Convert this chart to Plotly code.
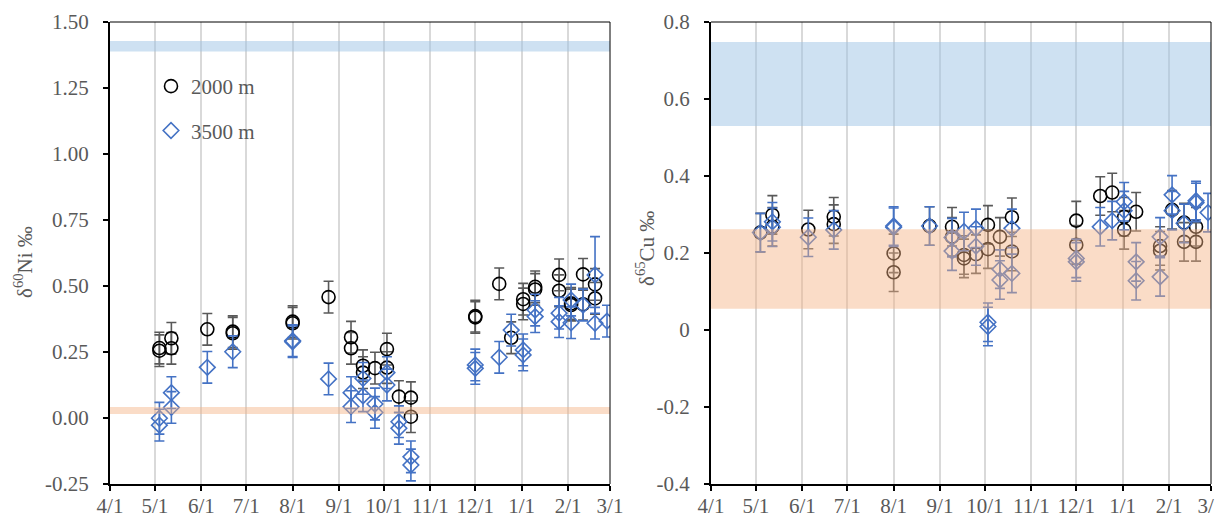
import plotly.graph_objects as go

FONT = "Liberation Serif"
GRAY = "#595959"
BLUE = "#4472C4"

# ---------------- axis ticks ----------------
month_ticks = ["2018-04-01", "2018-05-01", "2018-06-01", "2018-07-01", "2018-08-01", "2018-09-01",
               "2018-10-01", "2018-11-01", "2018-12-01", "2019-01-01", "2019-02-01", "2019-03-01"]
month_labels = ["4/1", "5/1", "6/1", "7/1", "8/1", "9/1", "10/1", "11/1", "12/1", "1/1", "2/1", "3/1"]

ni_y_ticks = [-0.25, 0.0, 0.25, 0.5, 0.75, 1.0, 1.25, 1.5]
ni_y_labels = ["-0.25", "0.00", "0.25", "0.50", "0.75", "1.00", "1.25", "1.50"]
cu_y_ticks = [-0.4, -0.2, 0.0, 0.2, 0.4, 0.6, 0.8]
cu_y_labels = ["-0.4", "-0.2", "0", "0.2", "0.4", "0.6", "0.8"]

# ---------------- reference bands ----------------
ni_band_blue = [1.388, 1.428]
ni_band_orange = [0.015, 0.042]
cu_band_blue = [0.530, 0.748]
cu_band_orange = [0.055, 0.262]

# ---------------- Ni, 2000 m ----------------
ni_2000_date = ["2018-05-04", "2018-05-04", "2018-05-12", "2018-05-12", "2018-06-05", "2018-06-22", "2018-06-22",
                "2018-08-01", "2018-08-01", "2018-08-25", "2018-09-09", "2018-09-09", "2018-09-17", "2018-09-17",
                "2018-09-25", "2018-10-03", "2018-10-03", "2018-10-11", "2018-10-19", "2018-10-19",
                "2018-12-01", "2018-12-01", "2018-12-17", "2018-12-25", "2019-01-02", "2019-01-02",
                "2019-01-10", "2019-01-10", "2019-01-26", "2019-01-26", "2019-02-03", "2019-02-03",
                "2019-02-11", "2019-02-11", "2019-02-19", "2019-02-19"]
ni_2000_val = [0.265, 0.255, 0.302, 0.264, 0.336, 0.327, 0.321,
               0.365, 0.359, 0.458, 0.306, 0.264, 0.198, 0.172,
               0.189, 0.261, 0.191, 0.081, 0.077, 0.005,
               0.386, 0.381, 0.508, 0.304, 0.450, 0.432,
               0.497, 0.487, 0.542, 0.482, 0.434, 0.428,
               0.544, 0.431, 0.506, 0.453]
ni_2000_err = [0.06] * 36

# ---------------- Ni, 3500 m ----------------
ni_3500_date = ["2018-05-04", "2018-05-04", "2018-05-12", "2018-05-12", "2018-06-05", "2018-06-22",
                "2018-08-01", "2018-08-01", "2018-08-25", "2018-09-09", "2018-09-09", "2018-09-17", "2018-09-17",
                "2018-09-25", "2018-09-25", "2018-10-03", "2018-10-03", "2018-10-11", "2018-10-11",
                "2018-10-19", "2018-10-19", "2018-12-01", "2018-12-01", "2018-12-17", "2018-12-25",
                "2019-01-02", "2019-01-02", "2019-01-10", "2019-01-10", "2019-01-26", "2019-01-26",
                "2019-02-03", "2019-02-03", "2019-02-11", "2019-02-19", "2019-02-19", "2019-02-27"]
ni_3500_val = [-0.001, -0.027, 0.096, 0.040, 0.192, 0.251,
               0.293, 0.289, 0.148, 0.096, 0.043, 0.150, 0.084,
               0.053, 0.021, 0.172, 0.125, -0.014, -0.039,
               -0.147, -0.178, 0.201, 0.188, 0.230, 0.333,
               0.258, 0.239, 0.409, 0.384, 0.397, 0.365,
               0.447, 0.361, 0.428, 0.542, 0.359, 0.367]
ni_3500_err = [0.06] * 34 + [0.145, 0.06, 0.06]

# ---------------- Cu, 2000 m ----------------
cu_2000_date = ["2018-05-04", "2018-05-12", "2018-05-12", "2018-06-05", "2018-06-22", "2018-06-22",
                "2018-08-01", "2018-08-01", "2018-08-25", "2018-09-09", "2018-09-09", "2018-09-17", "2018-09-17",
                "2018-09-25", "2018-10-03", "2018-10-03", "2018-10-11", "2018-10-19", "2018-10-19",
                "2018-12-01", "2018-12-01", "2018-12-17", "2018-12-25", "2019-01-02", "2019-01-02",
                "2019-01-10", "2019-01-26", "2019-01-26", "2019-02-03", "2019-02-11", "2019-02-11",
                "2019-02-19", "2019-02-19"]
cu_2000_val = [0.253, 0.299, 0.268, 0.261, 0.294, 0.275,
               0.199, 0.150, 0.270, 0.268, 0.242, 0.195, 0.186,
               0.197, 0.273, 0.210, 0.242, 0.293, 0.204,
               0.284, 0.221, 0.348, 0.357, 0.294, 0.260,
               0.307, 0.218, 0.206, 0.312, 0.279, 0.229,
               0.268, 0.229]
cu_2000_err = [0.05] * 33

# ---------------- Cu, 3500 m ----------------
cu_3500_date = ["2018-05-04", "2018-05-12", "2018-05-12", "2018-06-05", "2018-06-22",
                "2018-08-01", "2018-08-01", "2018-08-25", "2018-09-09", "2018-09-09", "2018-09-17",
                "2018-09-25", "2018-09-25", "2018-10-03", "2018-10-03", "2018-10-11", "2018-10-11",
                "2018-10-19", "2018-10-19", "2018-12-01", "2018-12-01", "2018-12-17", "2018-12-25",
                "2019-01-02", "2019-01-02", "2019-01-10", "2019-01-10", "2019-01-26", "2019-01-26",
                "2019-02-03", "2019-02-03", "2019-02-11", "2019-02-19", "2019-02-19", "2019-02-27"]
cu_3500_val = [0.253, 0.281, 0.267, 0.241, 0.260,
               0.270, 0.267, 0.270, 0.240, 0.205, 0.256,
               0.264, 0.218, 0.020, 0.009, 0.158, 0.130,
               0.264, 0.147, 0.186, 0.177, 0.268, 0.284,
               0.333, 0.310, 0.177, 0.128, 0.242, 0.138,
               0.351, 0.310, 0.277, 0.336, 0.331, 0.305]
cu_3500_err = [0.05] * 35

# page body has an 8 px margin; figure is sized to fit inside the window
OFF = 8
W, H = 1223 - OFF, 517 - OFF


def px(x):
    return (x - OFF) / W


def py(y):
    return 1 - (y - OFF) / H


L_DOM = [px(110), px(610)]
R_DOM = [px(711), px(1211)]
Y_DOM = [py(484), py(22)]

fig = go.Figure()


def add_series(dates, vals, errs, name, symbol, color, ecolor, size, xa, ya, legend, group):
    fig.add_trace(go.Scatter(
        x=dates, y=vals, mode="markers", name=name,
        marker=dict(symbol=symbol, size=size, color=color, line=dict(width=1.6, color=color)),
        error_y=dict(type="data", array=errs, color=ecolor, thickness=1.6, width=5),
        xaxis=xa, yaxis=ya, showlegend=legend, legendgroup=group,
    ))


add_series(ni_2000_date, ni_2000_val, ni_2000_err, "2000 m", "circle-open", "black", GRAY, 13, "x", "y", True, "a")
add_series(ni_3500_date, ni_3500_val, ni_3500_err, "3500 m", "diamond-open", BLUE, BLUE, 12, "x", "y", True, "b")
add_series(cu_2000_date, cu_2000_val, cu_2000_err, "2000 m", "circle-open", "black", GRAY, 13, "x2", "y2", False, "a")
add_series(cu_3500_date, cu_3500_val, cu_3500_err, "3500 m", "diamond-open", BLUE, BLUE, 12, "x2", "y2", False, "b")

FS = 21
tickfont = dict(family=FONT, size=FS, color=GRAY)

xcommon = dict(type="date", range=[month_ticks[0], month_ticks[-1]], tickmode="array",
               tickvals=month_ticks, ticktext=month_labels, ticks="outside", ticklen=5,
               tickcolor="black", tickwidth=1.5, showgrid=True, gridcolor="#D9D9D9", gridwidth=1.5,
               showline=True, linecolor="black", linewidth=2, zeroline=False, tickfont=tickfont,
               automargin=False, fixedrange=True, ticklabelstandoff=-3, ticklabeloverflow="allow")
ycommon = dict(tickmode="array", ticks="outside", ticklen=5, tickcolor="black", tickwidth=1.5,
               showgrid=False, showline=True, linecolor="black", linewidth=2, zeroline=False,
               tickfont=tickfont, automargin=False, fixedrange=True, ticklabelstandoff=10)

shapes = []
for xr, yr, blue, orange in [("x", "y", ni_band_blue, ni_band_orange), ("x2", "y2", cu_band_blue, cu_band_orange)]:
    shapes.append(dict(type="rect", xref=xr + " domain", yref=yr, x0=0, x1=1, y0=blue[0], y1=blue[1],
                       fillcolor="rgba(157,195,230,0.5)", line=dict(width=0), layer="above"))
    shapes.append(dict(type="rect", xref=xr + " domain", yref=yr, x0=0, x1=1, y0=orange[0], y1=orange[1],
                       fillcolor="rgba(244,177,131,0.45)", line=dict(width=0), layer="above"))
    shapes.append(dict(type="line", xref=xr + " domain", yref=yr + " domain", x0=0, x1=1, y0=1, y1=1,
                       line=dict(color="black", width=1), layer="above"))
    shapes.append(dict(type="line", xref=xr + " domain", yref=yr + " domain", x0=1, x1=1, y0=0, y1=1,
                       line=dict(color="black", width=1), layer="above"))

fig.update_layout(
    width=W, height=H, margin=dict(l=0, r=0, t=0, b=0),
    paper_bgcolor="white", plot_bgcolor="white",
    xaxis=dict(domain=L_DOM, anchor="y", **xcommon),
    yaxis=dict(domain=Y_DOM, anchor="x", range=[-0.25, 1.5], tickvals=ni_y_ticks, ticktext=ni_y_labels, **ycommon),
    xaxis2=dict(domain=R_DOM, anchor="y2", **xcommon),
    yaxis2=dict(domain=Y_DOM, anchor="x2", range=[-0.4, 0.8], tickvals=cu_y_ticks, ticktext=cu_y_labels, **ycommon),
    shapes=shapes,
    showlegend=True,
    legend=dict(x=px(151), y=py(66), xanchor="left", yanchor="top", bgcolor="rgba(0,0,0,0)",
                font=dict(family=FONT, size=FS, color=GRAY), traceorder="grouped", tracegroupgap=14,
                itemwidth=30),
    annotations=[
        dict(text="δ<sup>60</sup>Ni ‰", xref="paper", yref="paper", x=px(23), y=py(262),
             xanchor="center", yanchor="middle",
             textangle=-90, showarrow=False, font=dict(family=FONT, size=FS, color=GRAY)),
        dict(text="δ<sup>65</sup>Cu ‰", xref="paper", yref="paper", x=px(645), y=py(249),
             xanchor="center", yanchor="middle",
             textangle=-90, showarrow=False, font=dict(family=FONT, size=FS, color=GRAY)),
    ],
)

fig.write_html("out.html")
